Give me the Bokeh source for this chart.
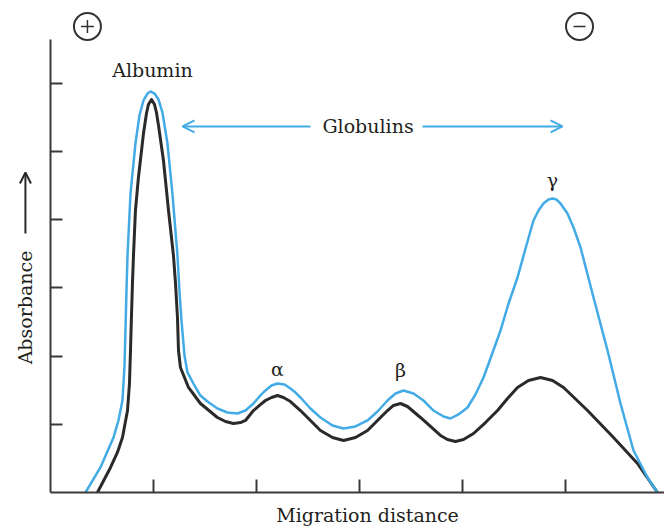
import math
from bokeh.plotting import figure
from bokeh.models import (Range1d, FixedTicker, Label, Arrow, OpenHead, ColumnDataSource,
                          CustomLabelingPolicy)
from bokeh.core.properties import value
from bokeh.embed import file_html
from bokeh.resources import INLINE

# ---- data (x: migration distance units, y: absorbance units) ----
x_ticks = [1, 2, 3, 4, 5]
y_ticks = [1, 2, 3, 4, 5, 6]

black_x = [0.456, 0.583, 0.650, 0.699, 0.748, 0.767, 0.777, 0.786, 0.796, 0.806, 0.825,
           0.854, 0.903, 0.932, 0.951, 0.981, 1.010, 1.029, 1.049, 1.097, 1.146,
           1.194, 1.214, 1.233, 1.243, 1.262, 1.340, 1.456, 1.621, 1.699, 1.777,
           1.845, 1.893, 1.971, 2.029, 2.087, 2.146, 2.204, 2.262, 2.330, 2.427,
           2.524, 2.621, 2.738, 2.845, 2.961, 3.078, 3.175, 3.272, 3.330, 3.398,
           3.466, 3.592, 3.689, 3.786, 3.854, 3.932, 4.010, 4.107, 4.223, 4.340,
           4.437, 4.534, 4.641, 4.757, 4.874, 4.981, 5.214, 5.466, 5.699, 5.893]
black_y = [0.000, 0.367, 0.587, 0.806, 1.202, 1.598, 2.082, 2.566, 3.065, 3.475, 4.135,
           4.619, 5.264, 5.557, 5.689, 5.762, 5.689, 5.572, 5.381, 4.868, 4.135,
           3.475, 3.065, 2.566, 2.082, 1.833, 1.540, 1.305, 1.100, 1.041, 1.012,
           1.026, 1.056, 1.202, 1.276, 1.349, 1.393, 1.422, 1.393, 1.334, 1.202,
           1.056, 0.909, 0.806, 0.762, 0.806, 0.909, 1.056, 1.202, 1.276, 1.305,
           1.261, 1.100, 0.968, 0.836, 0.777, 0.748, 0.777, 0.865, 1.026, 1.202,
           1.378, 1.540, 1.642, 1.686, 1.642, 1.540, 1.202, 0.806, 0.425, 0.000]

blue_x = [0.340, 0.485, 0.612, 0.660, 0.699, 0.718, 0.728, 0.738, 0.748, 0.777,
          0.825, 0.864, 0.903, 0.942, 0.971, 1.010, 1.049, 1.087, 1.136, 1.184,
          1.233, 1.252, 1.272, 1.301, 1.330, 1.388, 1.456, 1.524, 1.621, 1.718,
          1.816, 1.893, 1.971, 2.029, 2.087, 2.146, 2.204, 2.272, 2.330, 2.379,
          2.427, 2.524, 2.621, 2.738, 2.845, 2.961, 3.078, 3.175, 3.272, 3.350,
          3.427, 3.524, 3.621, 3.718, 3.816, 3.883, 3.961, 4.049, 4.126, 4.204,
          4.282, 4.369, 4.447, 4.534, 4.612, 4.689, 4.738, 4.786, 4.835, 4.874,
          4.913, 4.951, 5.019, 5.078, 5.146, 5.272, 5.408, 5.534, 5.660, 5.796,
          5.893]
blue_y = [0.000, 0.367, 0.806, 1.056, 1.349, 1.833, 2.375, 2.962, 3.475, 4.384,
          5.117, 5.528, 5.748, 5.850, 5.880, 5.850, 5.762, 5.572, 5.117, 4.384,
          3.475, 2.962, 2.522, 2.009, 1.760, 1.598, 1.422, 1.334, 1.232, 1.173,
          1.158, 1.202, 1.305, 1.408, 1.496, 1.569, 1.598, 1.584, 1.525, 1.466,
          1.393, 1.232, 1.100, 0.982, 0.938, 0.968, 1.056, 1.188, 1.349, 1.452,
          1.496, 1.452, 1.349, 1.202, 1.114, 1.085, 1.144, 1.246, 1.437, 1.686,
          2.009, 2.375, 2.771, 3.152, 3.578, 3.988, 4.135, 4.238, 4.296, 4.311,
          4.296, 4.238, 4.091, 3.886, 3.592, 2.859, 2.082, 1.305, 0.616, 0.220,
          0.000]

peak_labels = ["Albumin", "\u03b1", "\u03b2", "\u03b3"]
peak_label_x = [0.990, 2.204, 3.398, 4.874]
peak_label_y = [6.188, 1.818, 1.789, 4.575]

globulin_y = 5.367
globulin_left = [1.282, 2.524]
globulin_right = [3.612, 4.971]
globulin_text_x = 3.083

electrode_x = [0.359, 5.136]
electrode_y = [6.833, 6.833]

axis_titles = ["Migration distance", "Absorbance"]

BLUE = "#42ABE6"
DARK = "#2a2a2a"
TEXT = "#231f20"
FONT = "DejaVu Serif"

p = figure(width=664, height=529, output_backend="svg", toolbar_location=None,
           x_range=Range1d(-0.485, 5.961), y_range=Range1d(-0.5425, 7.214),
           min_border_left=0, min_border_right=0, min_border_top=0, min_border_bottom=0)
p.outline_line_color = None
p.grid.visible = False
p.background_fill_color = "white"

hide_all = CustomLabelingPolicy(code="""
    for (const i of Array.from(indices)) indices.unset(i)
    return indices
""")

for ax, ticks, bounds in ((p.xaxis[0], x_ticks, (0, 5.961)), (p.yaxis[0], y_ticks, (0, 6.64))):
    ax.ticker = FixedTicker(ticks=ticks)
    ax.bounds = bounds
    ax.fixed_location = 0
    ax.major_tick_in = 13
    ax.major_tick_out = 0
    ax.minor_tick_in = 0
    ax.minor_tick_out = 0
    ax.major_label_policy = hide_all
    ax.major_label_standoff = 0
    ax.axis_line_color = "#3a3a3a"
    ax.axis_line_width = 2
    ax.major_tick_line_color = "#3a3a3a"
    ax.major_tick_line_width = 2
p.yaxis[0].major_tick_in = 12

p.line(black_x, black_y, line_color=DARK, line_width=3, line_join="round")
p.line(blue_x, blue_y, line_color=BLUE, line_width=2.5, line_join="round")

# peak labels
src = ColumnDataSource(dict(x=peak_label_x, y=peak_label_y, t=peak_labels))
p.text(x="x", y="y", text="t", source=src, text_align="center", text_baseline="middle",
       text_font=value(FONT), text_font_size="19px", text_color=TEXT)

# Globulins arrows
p.add_layout(Arrow(end=OpenHead(size=12, line_color=BLUE, line_width=2),
                   x_start=globulin_left[1], y_start=globulin_y,
                   x_end=globulin_left[0], y_end=globulin_y,
                   line_color=BLUE, line_width=2))
p.add_layout(Arrow(end=OpenHead(size=12, line_color=BLUE, line_width=2),
                   x_start=globulin_right[0], y_start=globulin_y,
                   x_end=globulin_right[1], y_end=globulin_y,
                   line_color=BLUE, line_width=2))
p.add_layout(Label(x=globulin_text_x, y=globulin_y, text="Globulins", text_align="center",
                   text_baseline="middle", text_font=FONT, text_font_size="19px",
                   text_color=TEXT))

# electrodes
p.scatter(electrode_x, electrode_y, marker="circle", size=27, fill_color=None,
          line_color="#333333", line_width=2)
p.scatter(electrode_x[:1], electrode_y[:1], marker="cross", size=13,
          line_color="#333333", line_width=1.5)
p.scatter(electrode_x[1:], electrode_y[1:], marker="dash", size=12,
          line_color="#333333", line_width=1.5)

# axis titles
p.add_layout(Label(x=3.078, y=-0.337, text=axis_titles[0], text_align="center",
                   text_baseline="middle", text_font=FONT, text_font_size="19px",
                   text_color=TEXT))
p.add_layout(Label(x=-0.243, y=2.713, text=axis_titles[1], angle=math.pi / 2,
                   text_align="center", text_baseline="middle", text_font=FONT,
                   text_font_size="19px", text_color=TEXT))
p.add_layout(Arrow(end=OpenHead(size=11, line_color="#2a2a2a", line_width=2),
                   x_start=-0.243, y_start=3.798, x_end=-0.243, y_end=4.692,
                   line_color="#2a2a2a", line_width=2))

open("out.html", "w").write(file_html(p, INLINE))
